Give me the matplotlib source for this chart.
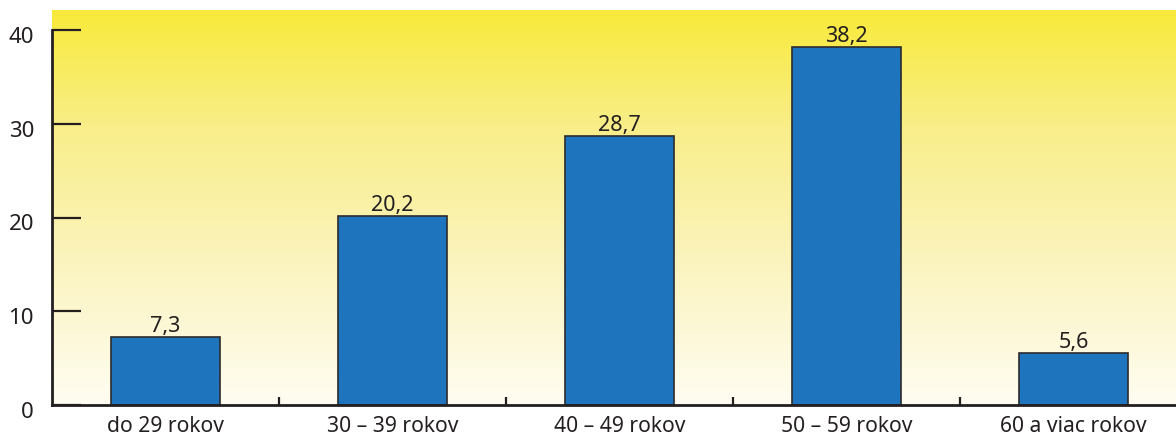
import matplotlib
matplotlib.use("Agg")
import matplotlib.pyplot as plt
import numpy as np
from matplotlib.colors import LinearSegmentedColormap
from matplotlib.transforms import ScaledTranslation

categories = ["do 29 rokov", "30 – 39 rokov", "40 – 49 rokov", "50 – 59 rokov", "60 a viac rokov"]
values = [7.3, 20.2, 28.7, 38.2, 5.6]
value_labels = ["7,3", "20,2", "28,7", "38,2", "5,6"]
yticks = [0, 10, 20, 30, 40]

plt.rcParams['font.family'] = ['Noto Sans', 'DejaVu Sans']
txt = '#231f20'

W, H = 1176, 439
fig = plt.figure(figsize=(W / 100, H / 100), dpi=100)
ax = fig.add_axes([52 / W, 33 / H, (W - 52) / W, (428 - 33) / H])

ymax = 40 * (428 - 33) / (406 - 31)
xmin, xmax = -0.5, -0.5 + (W - 52) / 227
ax.set_xlim(xmin, xmax)
ax.set_ylim(0, ymax)

# gradient background
cmap = LinearSegmentedColormap.from_list(
    'bg', [(0.0, '#fffdf2'), (0.35, '#fbf4c0'), (0.7, '#f9ee8a'), (1.0, '#f8ea3a')])
grad = np.linspace(0, 1, 256).reshape(-1, 1)
ax.imshow(grad, extent=[xmin, xmax, 0, ymax], origin='lower', aspect='auto',
          cmap=cmap, zorder=0, interpolation='bicubic')

x = np.arange(len(categories))
ax.bar(x, values, width=0.48, color='#1f75bd', edgecolor='#2b2b2b', linewidth=1.2, zorder=2)
for xi, v, lab in zip(x, values, value_labels):
    ax.annotate(lab, (xi, v), xytext=(0, 4), textcoords='offset points',
                ha='center', va='baseline', fontsize=15.5, color=txt, zorder=3)

for s in ['top', 'right']:
    ax.spines[s].set_visible(False)
for s in ['left', 'bottom']:
    ax.spines[s].set_linewidth(2.0)
    ax.spines[s].set_color('#231f20')
    ax.spines[s].set_zorder(4)
ax.spines['left'].set_bounds(0, 40)

ax.set_yticks(yticks)
ax.set_yticklabels([str(t) for t in yticks])
ax.tick_params(axis='y', direction='in', length=21, width=1.6, color='#231f20',
               labelsize=16, labelcolor=txt, pad=13)
off = ScaledTranslation(0, -4 / 100, fig.dpi_scale_trans)
for lab in ax.get_yticklabels():
    lab.set_transform(lab.get_transform() + off)

ax.set_xticks(x)
ax.set_xticklabels(categories)
ax.tick_params(axis='x', which='major', length=0, labelsize=15.2, labelcolor=txt, pad=7.5)
ax.set_xticks(x[:-1] + 0.5, minor=True)
ax.tick_params(axis='x', which='minor', direction='in', length=6, width=1.6, color='#231f20')

fig.savefig('out.png', dpi=100)
